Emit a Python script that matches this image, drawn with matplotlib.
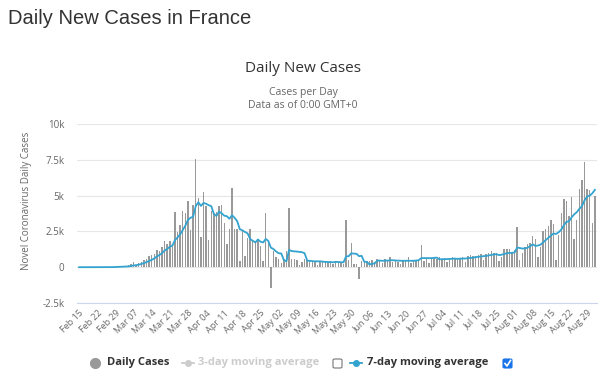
import matplotlib.pyplot as plt
from matplotlib.patches import FancyBboxPatch
from matplotlib.lines import Line2D

# daily new cases, Feb 15 .. Sep 01 (one value per day)
daily_cases = [
    0, 0, 0, 0, 0, 0, 0, 0, 0, 0,
    2, 4, 20, 19, 43,
    30, 61, 21, 73, 138, 190, 336, 177, 286, 372, 497, 595, 785, 838, 924,
    1210, 1097, 1404, 1861, 1617, 1847, 1559, 3838, 2446, 2931, 3922, 3809, 4611, 2599, 4376, 7578,
    4861, 2116, 5233, 4267, 1873, 3912, 3777, 3881, 4286, 4342, 3114, 1613, 2673, 5497, 2633, 2641, 405,
    2569, 785, 2051, 2667, 1827, 1800, 1850, 1500, 400, 3760, 1700, -1450, 1100, 700, 600, 300, 550,
    1100, 4100, 550, 550, 500, 150, 380, 600, 480, 450, 420, 380, 150, 400, 430, 350, 380, 420, 250,
    380, 330, 350, 250, 3300, 500, 1700, 200, 250, -800, 400, 450, 400, 450, 520, 350, 600, 480, 300,
    550, 420, 700, 350, 500, 380, 250, 520, 460, 700, 300, 530, 480, 420, 1550, 450, 650, 300, 580,
    620, 550, 700, 520, 650, 350, 640, 700, 640, 560, 650, 700, 350, 800, 820, 780, 800, 820, 900,
    500, 900, 1000, 1100, 1000, 1000, 400, 700, 1300, 1300, 1300, 1000, 1200, 2800, 500, 1000, 1400,
    1600, 1700, 2200, 2000, 700, 1400, 2520, 2670, 2850, 3310, 3015, 485, 2240, 3780, 4770, 4590,
    3600, 4900, 1955, 3300, 5430, 6110, 7380, 5450, 5410, 3080, 4980,
]

# 7-day moving average as plotted
moving_avg_7 = [
    0, 0, 0, 0, 0, 0, 0, 0, 0, 0,
    0, 1, 4, 6, 13,
    17, 26, 28, 38, 55, 79, 121, 142, 174, 225, 285, 350, 435, 507, 614,
    746, 849, 979, 1160, 1279, 1423, 1514, 1889, 2082, 2300, 2594, 2907, 3302, 3451, 3528, 4261,
    4537, 4279, 4482, 4433, 4329, 4263, 3720, 3580, 3890, 3763, 3598, 3561, 3384, 3629, 3451, 3216, 2654,
    2576, 2458, 2369, 1964, 1849, 1729, 1936, 1783, 1728, 1972, 1834, 1366, 1266, 1101, 973, 959, 500,
    414, 1207, 1129, 1107, 1093, 1071, 1047, 976, 459, 444, 426, 409, 409, 411, 387, 369, 359, 359, 340,
    373, 363, 351, 337, 754, 766, 973, 947, 936, 771, 793, 386, 371, 193, 239, 253, 453, 464, 443,
    464, 460, 486, 486, 471, 457, 450, 446, 451, 451, 444, 449, 463, 487, 634, 633, 626, 626, 633,
    653, 671, 550, 560, 560, 567, 576, 587, 600, 580, 599, 606, 606, 629, 646, 666, 700, 724, 753,
    774, 789, 814, 860, 889, 914, 843, 871, 929, 971, 1000, 1000, 1029, 1371, 1343, 1300, 1314,
    1357, 1457, 1600, 1486, 1514, 1571, 1731, 1884, 2049, 2207, 2352, 2321, 2441, 2621, 2921, 3170,
    3211, 3481, 3691, 3842, 4078, 4269, 4668, 4932, 5002, 5163, 5403,
]

tick_labels = ['Feb 15', 'Feb 22', 'Feb 29', 'Mar 07', 'Mar 14', 'Mar 21', 'Mar 28',
               'Apr 04', 'Apr 11', 'Apr 18', 'Apr 25', 'May 02', 'May 09', 'May 16',
               'May 23', 'May 30', 'Jun 06', 'Jun 13', 'Jun 20', 'Jun 27', 'Jul 04',
               'Jul 11', 'Jul 18', 'Jul 25', 'Aug 01', 'Aug 08', 'Aug 15', 'Aug 22', 'Aug 29']

y_ticks = [-2500, 0, 2500, 5000, 7500, 10000]
y_tick_labels = ['-2.5k', '0', '2.5k', '5k', '7.5k', '10k']

BAR = '#999999'
LINE = '#33a3cf'
TXT = '#666666'
W, H = 600, 381

fig = plt.figure(figsize=(6, 3.81), dpi=100)
ax = fig.add_axes([77 / W, 1 - 303 / H, 520 / W, 179 / H])

x = list(range(len(daily_cases)))
ax.bar(x, daily_cases, width=0.55, color=BAR, zorder=2)
ax.plot(x, moving_avg_7, color=LINE, lw=1.3, zorder=3)

ax.set_xlim(-0.8, len(daily_cases) - 0.2)
ax.set_ylim(-2500, 10000)
ax.set_yticks(y_ticks)
ax.set_yticklabels(y_tick_labels, fontsize=7, color=TXT, family='Open Sans')
ax.set_xticks(x[::7])
ax.set_xticklabels(tick_labels, rotation=45, ha='right', va='top',
                   rotation_mode='anchor', fontsize=6.5, color=TXT, family='Open Sans')
ax.tick_params(axis='y', length=0, pad=9)
ax.tick_params(axis='x', length=0, pad=4)
ax.grid(axis='y', color='#e6e6e6', lw=0.8, zorder=0)
for s in ['top', 'right', 'left']:
    ax.spines[s].set_visible(False)
ax.spines['bottom'].set_color('#ccd6eb')
ax.spines['bottom'].set_linewidth(0.8)

# titles
fig.text(8 / W, 1 - 18 / H, 'Daily New Cases in France', fontsize=14.5,
         color='#333333', va='center', family='Liberation Sans')
fig.text(303 / W, 1 - 68 / H, 'Daily New Cases', fontsize=11, color='#333333',
         ha='center', va='center', family='Open Sans')
fig.text(303 / W, 1 - 92 / H, 'Cases per Day', fontsize=7.5, color=TXT,
         ha='center', va='center', family='Open Sans')
fig.text(303 / W, 1 - 106 / H, 'Data as of 0:00 GMT+0', fontsize=7.5, color=TXT,
         ha='center', va='center', family='Open Sans')
fig.text(27 / W, 1 - 201 / H, 'Novel Coronavirus Daily Cases', fontsize=7,
         color=TXT, rotation=90, ha='center', va='center', family='Open Sans')

# legend
ly = 1 - 363 / H
fig.add_artist(Line2D([95 / W], [ly], marker='o', ms=7, color=BAR, lw=0))
fig.text(107 / W, ly, 'Daily Cases', fontsize=8, fontweight='bold', color='#333333',
         va='center', family='Open Sans')
fig.add_artist(Line2D([182 / W, 194 / W], [ly, ly], color='#cccccc', lw=1.3))
fig.add_artist(Line2D([188 / W], [ly], marker='o', ms=4, color='#cccccc', lw=0))
fig.text(198 / W, ly, '3-day moving average', fontsize=8, fontweight='bold',
         color='#cccccc', va='center', family='Open Sans')
fig.add_artist(Line2D([350 / W, 362 / W], [ly, ly], color=LINE, lw=1.3))
fig.add_artist(Line2D([356 / W], [ly], marker='o', ms=4, color=LINE, lw=0))
fig.text(367 / W, ly, '7-day moving average', fontsize=8, fontweight='bold',
         color='#333333', va='center', family='Open Sans')

# checkboxes
fig.add_artist(FancyBboxPatch((333 / W, 1 - 368 / H), 9 / W, 9 / H,
                              boxstyle='round,pad=0,rounding_size=0.003',
                              fc='white', ec='#767676', lw=0.8))
fig.add_artist(FancyBboxPatch((503 / W, 1 - 368 / H), 9 / W, 9 / H,
                              boxstyle='round,pad=0,rounding_size=0.003',
                              fc='#1a73e8', ec='#1a73e8', lw=0.8))
fig.add_artist(Line2D([505 / W, 507 / W, 510.5 / W],
                      [1 - 363.5 / H, 1 - 366 / H, 1 - 360.5 / H],
                      color='white', lw=1.2))

fig.savefig('out.png', dpi=100)
plt.close(fig)
